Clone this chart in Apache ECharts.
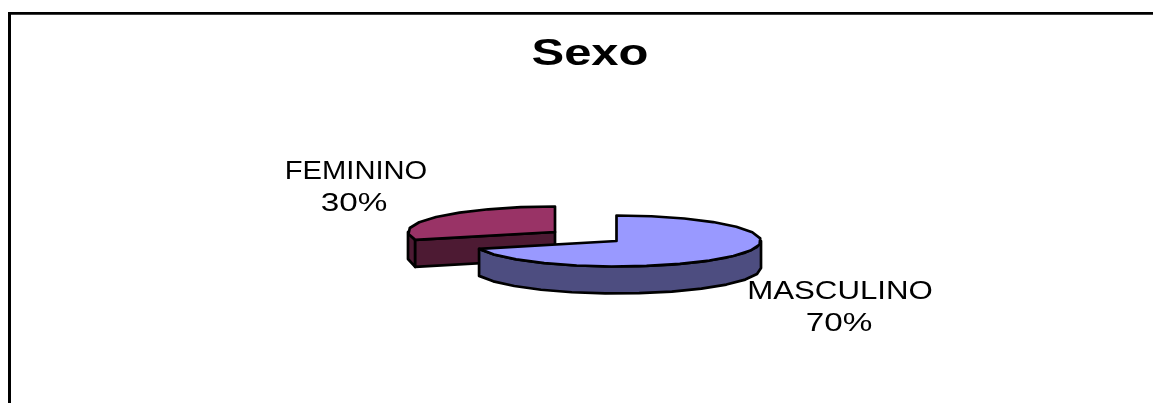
<!DOCTYPE html>
<html>
<head>
<meta charset="utf-8">
<style>html,body{margin:0;padding:0;background:#fff}#c{width:1153px;height:403px}</style>
<script src="https://cdn.jsdelivr.net/npm/echarts@6/dist/echarts.min.js"></script>
</head>
<body>
<div id="c"></div>
<script>
const titleText = 'Sexo';
const categories = ['MASCULINO', 'FEMININO'];
const values = [70, 30];
const topColors = ['#9999FF', '#993366'];
const sideColors = ['#4D4D80', '#4D1A33'];

const centers = [[616.5, 241], [555, 232]];
const radiiX = [144.5, 147];
const RY = 25.5, DEPTH = 27, STEP = 14;
const labelPos = [
  {name:[840,292], pct:[839,324], sx:1.2},
  {name:[356,172], pct:[354,204], sx:1.12}
];
const total = values.reduce((a, b) => a + b, 0);

function pt(c, rx, deg, dz) {
  const r = deg * Math.PI / 180;
  return [c[0] + rx * Math.sin(r), c[1] - RY * Math.cos(r) + (dz || 0)];
}
function arc(c, rx, a0, a1, dz) {
  const pts = [];
  const n = Math.max(1, Math.round((a1 - a0) / STEP));
  for (let i = 0; i <= n; i++) pts.push(pt(c, rx, a0 + (a1 - a0) * i / n, dz));
  return pts;
}
function renderItem(params, api) {
  const i = params.dataIndex;
  let start = 0;
  for (let k = 0; k < i; k++) start += values[k];
  const a0 = start / total * 360;
  const a1 = a0 + api.value(0) / total * 360;
  const c = centers[i], rx = radiiX[i];
  const z = i === 0 ? 10 : 1;
  const stroke = {stroke:'#000', lineWidth:2.7, lineJoin:'round'};
  const kids = [];
  const poly = (points, fill, zz) => kids.push({type:'polygon', z2:zz, shape:{points}, style:Object.assign({fill}, stroke)});
  const w0 = Math.max(a0, 90), w1 = Math.min(a1, 270);
  if (w1 > w0) {
    poly(arc(c, rx, w0, w1, 0).concat(arc(c, rx, w0, w1, DEPTH).reverse()), sideColors[i], z);
  }
  if (a0 > 90 && a0 < 270) {
    const t = pt(c, rx, a0);
    poly([c, t, [t[0], t[1] + DEPTH], [c[0], c[1] + DEPTH]], sideColors[i], z);
  }
  poly([c].concat(arc(c, rx, a0, a1, 0)), topColors[i], z + 1);
  const p = labelPos[i];
  const label = (text, pos, sx) => kids.push({
    type:'text', x:pos[0], y:pos[1], scaleX:sx, z2:20,
    style:{text, x:0, y:0, align:'center', verticalAlign:'middle', fill:'#000',
      font:'26px "Liberation Sans", Arial, sans-serif'}
  });
  label(categories[i], p.name, p.sx);
  label(Math.round(api.value(0) / total * 100) + '%', p.pct, 1.28);
  return {type:'group', children:kids};
}

const chart = echarts.init(document.getElementById('c'));
chart.setOption({
  animation:false,
  backgroundColor:'#fff',
  graphic:[
    {type:'line', silent:true, shape:{x1:9.5, y1:13.4, x2:1153, y2:13.4}, style:{stroke:'#000', lineWidth:2.6}},
    {type:'line', silent:true, shape:{x1:9.5, y1:12, x2:9.5, y2:403}, style:{stroke:'#000', lineWidth:3}},
    {type:'text', x:590, y:55, scaleX:1.36,
     style:{text:titleText, x:0, y:0, align:'center', verticalAlign:'middle', fill:'#000',
       font:'bold 36px "Liberation Sans", Arial, sans-serif'}}
  ],
  series:[{
    type:'custom',
    coordinateSystem:'none',
    renderItem,
    silent:true,
    data:values.map(v => [v])
  }]
});
</script>
</body>
</html>
